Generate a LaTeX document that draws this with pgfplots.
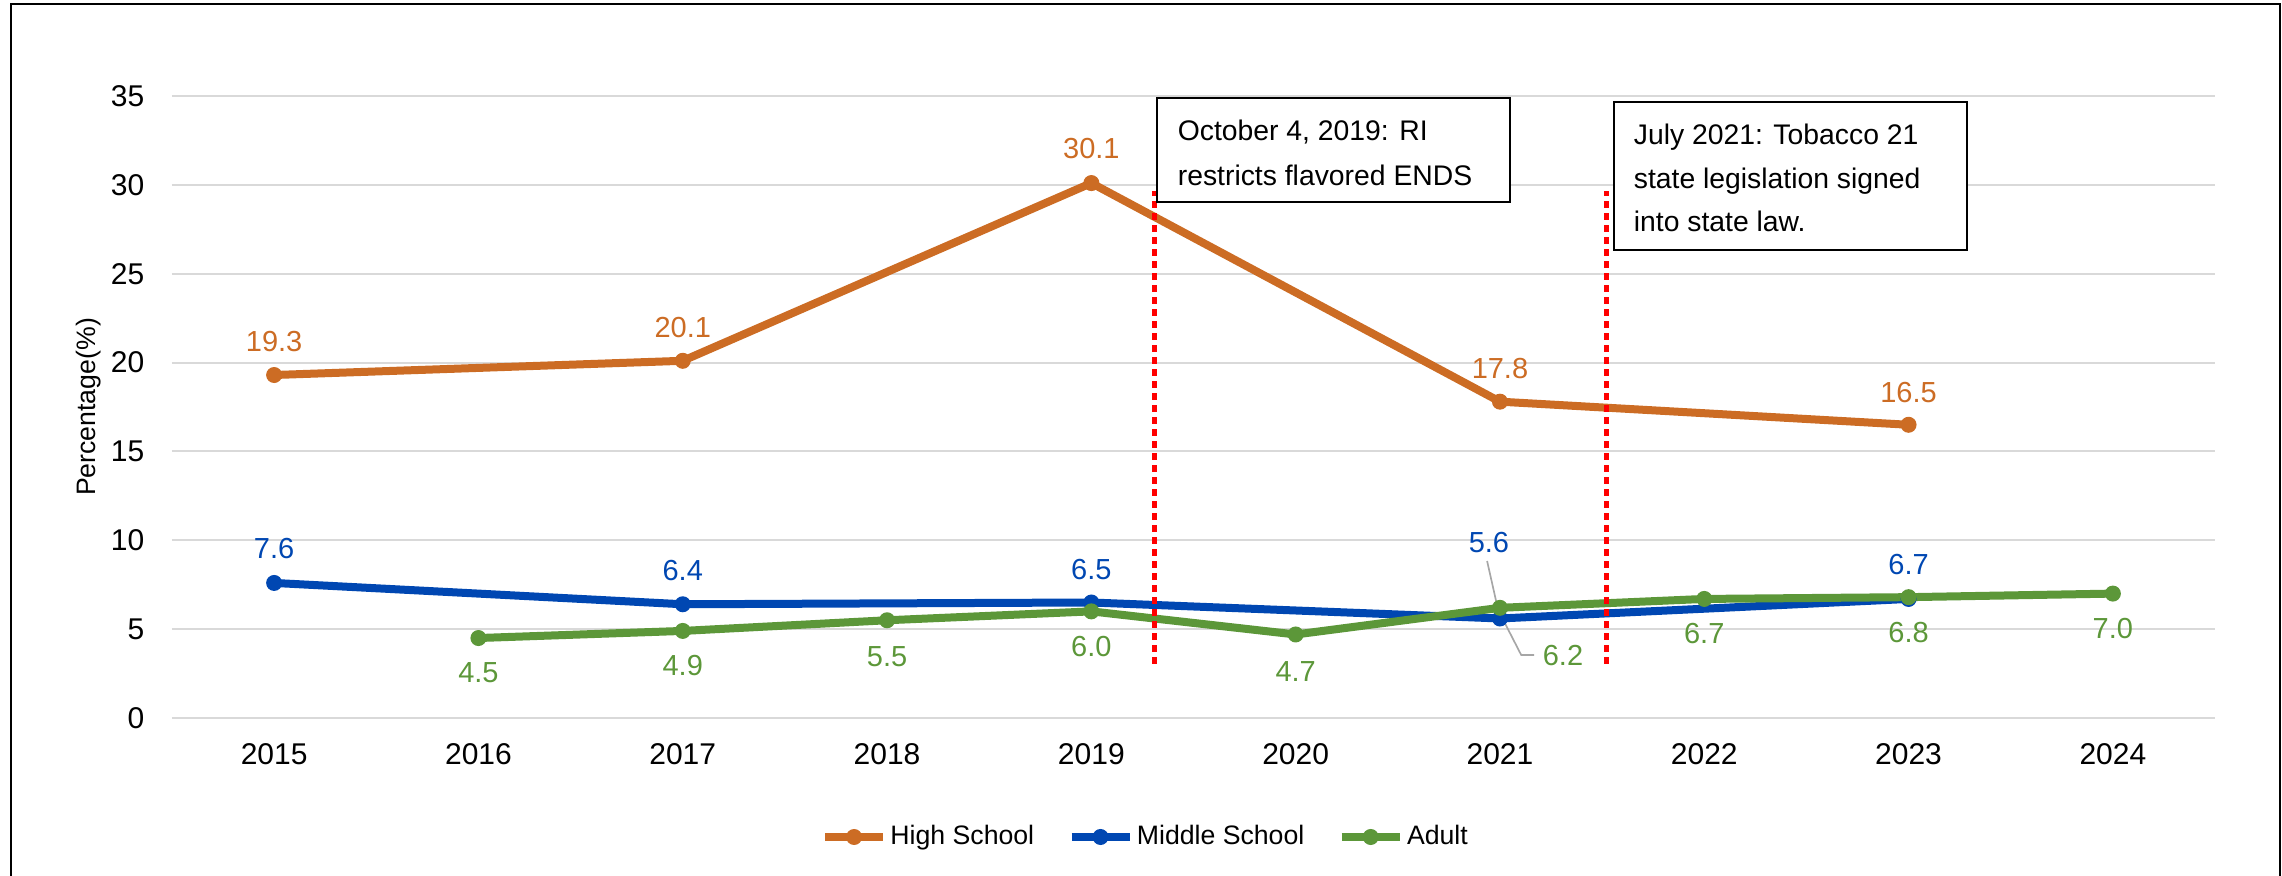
\documentclass[border=0pt]{standalone}
\usepackage{fontspec}
\setmainfont{Liberation Sans}
\usepackage{pgfplots}
\pgfplotsset{compat=1.18}
\usepackage{pgfplotstable}

\definecolor{hs}{RGB}{204,108,36}
\definecolor{ms}{RGB}{0,71,178}
\definecolor{ad}{RGB}{92,151,57}
\definecolor{gridgray}{RGB}{217,217,217}
\definecolor{leader}{RGB}{166,166,166}

% x = year index (0 = 2015), dx/dy = label offsets in pt
\pgfplotstableread{
x val dx dy
0 19.3 0 10
2 20.1 0 10
4 30.1 0 10.5
6 17.8 0 9.8
8 16.5 0 9.8
}\highschool

\pgfplotstableread{
x val dx dy
0 7.6 0 10.4
2 6.4 0 10.2
4 6.5 0 10
6 5.6 -3.3 22.8
8 6.7 0 10.2
}\middleschool

\pgfplotstableread{
x val dx dy
1 4.5 0 -10.5
2 4.9 0 -10.5
3 5.5 0 -10.8
4 6.0 0 -10.5
5 4.7 0 -11.2
6 6.2 18.9 -14.4
7 6.7 0 -10.5
8 6.8 0 -10.5
9 7.0 0 -10.5
}\adult

\newcommand\annfont{\fontsize{8.5}{10}\selectfont}

\pgfplotsset{
  serieslabels/.style={
    nodes near coords={\pgfmathprintnumber[fixed,fixed zerofill,precision=1]{\pgfplotspointmeta}},
    point meta=y,
    visualization depends on={\thisrow{dx} \as \ldx},
    visualization depends on={\thisrow{dy} \as \ldy},
    every node near coord/.append style={anchor=center, xshift=\ldx pt, yshift=\ldy pt,
      font=\fontsize{8.7}{10}\selectfont, text=#1},
  },
  seriesline/.style={#1, line width=2.4pt, mark=*, mark size=2.2pt,
    mark options={solid, line width=0.4pt, fill=#1}},
}

\begin{document}
\begin{tikzpicture}
\begin{axis}[
  scale only axis,
  width=612.9pt, height=186.6pt,
  xmin=-0.5, xmax=9.5,
  ymin=0, ymax=35,
  xtick={0,...,9},
  xticklabels={2015,2016,2017,2018,2019,2020,2021,2022,2023,2024},
  ytick={0,5,...,35},
  /pgf/number format/assume math mode=true,
  tick label style={font=\fontsize{9}{10}\selectfont, text=black},
  xticklabel style={yshift=-4.2pt},
  yticklabel style={xshift=-4.8pt},
  tick style={draw=none},
  axis line style={draw=none},
  ymajorgrids,
  major grid style={gridgray, line width=0.6pt},
  ylabel={Percentage(\%)},
  every axis y label/.style={at={(axis description cs:-0.0406,0.5)}, rotate=90, anchor=center,
    font=\fontsize{8}{9.6}\selectfont},
  clip=false,
  legend columns=3,
  legend style={at={(0.4768,-0.1913)}, anchor=center, draw=none, fill=none,
    font=\fontsize{8}{9.6}\selectfont,
    nodes={inner xsep=1pt, inner ysep=1pt},
    /tikz/every even column/.append style={column sep=9pt}},
  legend image code/.code={
    \draw[#1, mark repeat=2, mark phase=2] plot coordinates {(0pt,0pt) (8.7pt,0pt) (17.4pt,0pt)};
  },
]
\addplot[seriesline=hs, serieslabels=hs] table[x=x, y=val] {\highschool};
\addlegendentry{High School}
\addplot[seriesline=ms, serieslabels=ms] table[x=x, y=val] {\middleschool};
\addlegendentry{Middle School}
\addplot[seriesline=ad, serieslabels=ad] table[x=x, y=val] {\adult};
\addlegendentry{Adult}

% leader line for the crowded 2021 labels
\draw[leader, line width=0.5pt] (axis cs:5.937,8.835) -- (axis cs:5.991,6.078)
  -- (axis cs:6.104,3.545) -- (axis cs:6.167,3.545);

% policy markers
\draw[red, line width=1.5pt, dash pattern=on 2.1pt off 1.5pt]
  (axis cs:4.31,3.04) -- (axis cs:4.31,29.66);
\draw[red, line width=1.5pt, dash pattern=on 2.1pt off 1.5pt]
  (axis cs:6.52,3.04) -- (axis cs:6.52,29.66);

% annotation boxes
\draw[line width=0.7pt, fill=white] (axis cs:4.322,34.89) rectangle (axis cs:6.05,29.04);
\node[anchor=base west, inner sep=0pt, font=\annfont] at (axis cs:4.42,32.47) {October 4, 2019: RI};
\node[anchor=base west, inner sep=0pt, font=\annfont] at (axis cs:4.42,29.99) {restricts flavored ENDS};

\draw[line width=0.7pt, fill=white] (axis cs:6.559,34.66) rectangle (axis cs:8.287,26.33);
\node[anchor=base west, inner sep=0pt, font=\annfont] at (axis cs:6.652,32.25) {July 2021: Tobacco 21};
\node[anchor=base west, inner sep=0pt, font=\annfont] at (axis cs:6.652,29.77) {state legislation signed};
\node[anchor=base west, inner sep=0pt, font=\annfont] at (axis cs:6.652,27.35) {into state law.};
\end{axis}

% chart frame (open at the bottom edge)
\draw[line width=0.7pt] (-48.3pt,-50pt) -- (-48.3pt,214.2pt) -- (632.4pt,214.2pt) -- (632.4pt,-50pt);

\pgfresetboundingbox
\useasboundingbox (-51.6pt,-47.1pt) rectangle (633pt,215.4pt);
\end{tikzpicture}
\end{document}
